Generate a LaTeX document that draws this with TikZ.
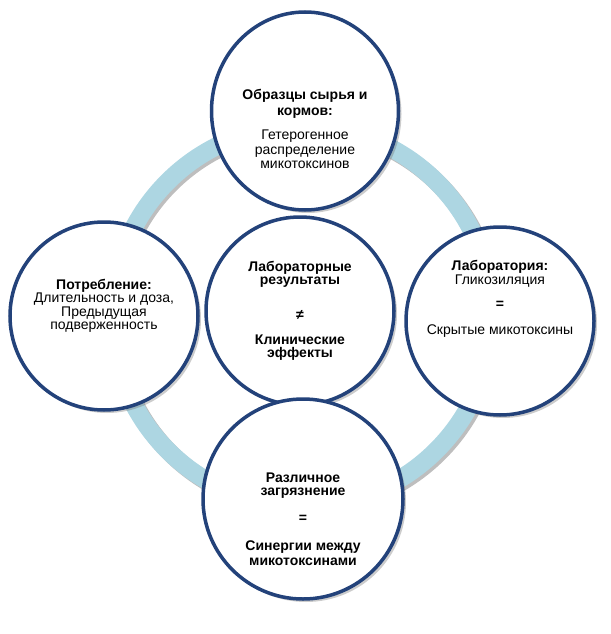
\documentclass[tikz,border=0pt]{standalone}
\usepackage{fontspec}
\setmainfont{Liberation Sans}
\usetikzlibrary{
	positioning,
	shapes.geometric,
	shadows,
	calc
}
\definecolor{RingBlue}{RGB}{173,214,226}
\definecolor{EdgeBlue}{RGB}{35,66,122}
\definecolor{ShadeGray}{RGB}{110,110,110}

\begin{document}
\begin{tikzpicture}[
	x=1pt, y=-1pt,
	bubble/.style={
		draw=EdgeBlue,
		line width=3.5pt,
		fill=white,
		circle,
		inner sep=0pt,
		drop shadow={shadow xshift=3pt, shadow yshift=-3pt, opacity=0.35, fill=ShadeGray}
	},
	caption/.style={
		align=center,
		inner sep=0pt,
		font=\fontsize{14}{14.5}\selectfont
	}
	]
	
	\useasboundingbox (0,0) rectangle (610,634);
	
	% ring behind the circles
	\draw[ShadeGray, line width=18pt, opacity=0.45] (304.5,318.5) circle[radius=190];
	\draw[RingBlue, line width=18pt] (302,316) circle[radius=190];
	
	\node[
	bubble,
	minimum size=188pt
	] (R) at (300,311) {};
	
	\node[
	bubble,
	ellipse,
	minimum width=187pt,
	minimum height=198pt
	] (S) at (305,111) {};
	
	\node[
	bubble,
	minimum size=188pt
	] (P) at (104,316) {};
	
	\node[
	bubble,
	minimum size=188pt
	] (L) at (500,321) {};
	
	\node[
	bubble,
	minimum size=200pt
	] (Z) at (303,499) {};
	
	% texts
	\node[caption] (St) at ($(S)+(0,18)$) {
		\textbf{Образцы сырья и}\\[1.5pt]
		\textbf{кормов:}\\[10pt]
		Гетерогенное\\
		распределение\\
		микотоксинов};
	
	\node[caption] (Pt) at ($(P)+(0,-10)$) {
		\textbf{Потребление:}\\[-1pt]
		Длительность и доза,\\[-1pt]
		Предыдущая\\[-1pt]
		подверженность};
	
	\node[caption] (Lt) at ($(L)+(0,-22)$) {
		\textbf{Лаборатория:}\\[-0.5pt]
		Гликозиляция\\[9pt]
		\textbf{=}\\[12pt]
		Скрытые микотоксины};
	
	\node[caption] (Rt) at ($(R)+(0,0)$) {
		\textbf{Лабораторные}\\[-1.5pt]
		\textbf{результаты}\\[20pt]
		\textbf{≠}\\[11pt]
		\textbf{Клинические}\\[-1.5pt]
		\textbf{эффекты}};
	
	\node[caption] (Zt) at ($(Z)+(0,20)$) {
		\textbf{Различное}\\[-1.5pt]
		\textbf{загрязнение}\\[12pt]
		\textbf{=}\\[14pt]
		\textbf{Синергии между}\\
		\textbf{микотоксинами}};
	
\end{tikzpicture}
\end{document}
